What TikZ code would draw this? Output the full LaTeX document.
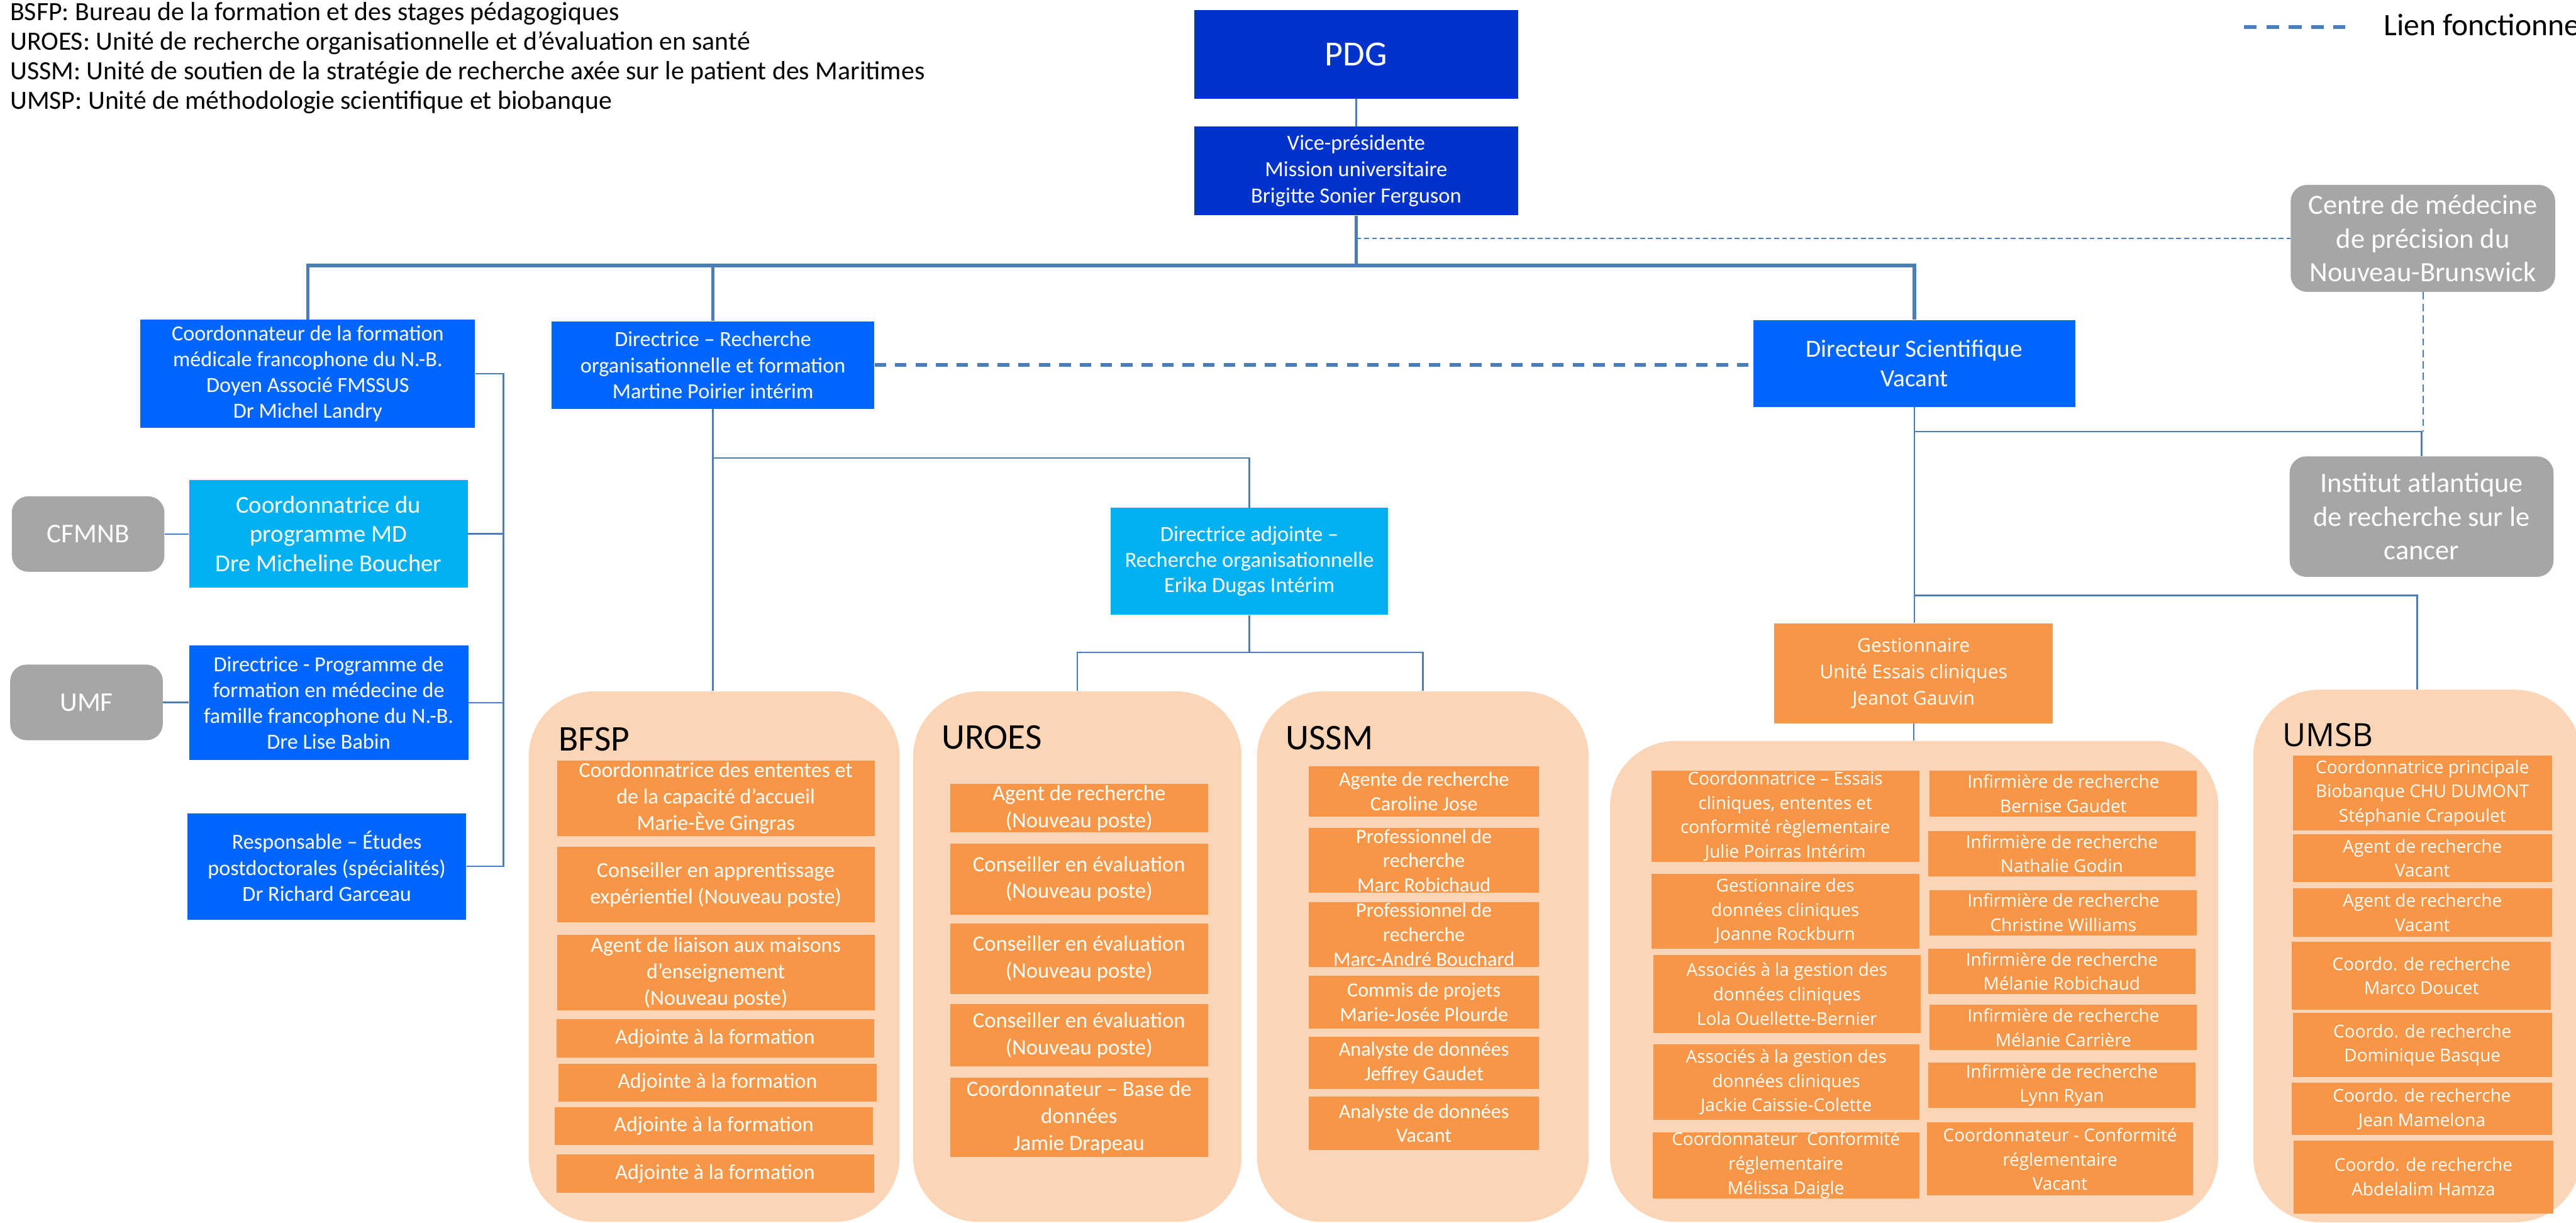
\documentclass[tikz,border=0pt]{standalone}
\usepackage{fontspec}
\setmainfont{Carlito}
\newfontfamily\osans{Open Sans}
\definecolor{pdgblue}{HTML}{0033CC}
\definecolor{bblue}{HTML}{0066FF}
\definecolor{lblue}{HTML}{00B0F0}
\definecolor{gbox}{HTML}{A6A6A6}
\definecolor{obox}{HTML}{F79646}
\definecolor{peach}{HTML}{FBD5B5}
\definecolor{lnc}{HTML}{4A7EBB}
\newcommand\bx[7]{\node[#1, minimum width={(#4-#2)*1pt}, minimum height={(#5-#3)*1pt}] (#6) at ({(#2+#4)/2},{(#3+#5)/2}) {#7};}
\tikzset{
  base/.style={rectangle, inner sep=0pt, align=center, text=white},
  pdgbox/.style={base, fill=pdgblue, font=\fontsize{21.5}{25}\selectfont},
  vpbox/.style={base, fill=pdgblue, font=\fontsize{13.2}{16.1}\selectfont},
  bluebox/.style={base, fill=bblue, font=\fontsize{13.1}{15.8}\selectfont},
  sciebox/.style={base, fill=bblue, font=\fontsize{15}{18}\selectfont},
  lbbox/.style={base, fill=lblue, font=\fontsize{14.8}{17.8}\selectfont},
  adjbox/.style={base, fill=lblue, font=\fontsize{13.2}{15.5}\selectfont},
  graybox/.style={base, fill=gbox, rounded corners=10pt, font=\fontsize{17}{20.5}\selectfont},
  smgray/.style={base, fill=gbox, rounded corners=10pt, font=\fontsize{16.5}{20}\selectfont},
  ofsp/.style={base, fill=obox, font=\fontsize{13}{16}\selectfont},
  ouro/.style={base, fill=obox, font=\fontsize{13.3}{16.3}\selectfont},
  ousm/.style={base, fill=obox, font=\fontsize{12.3}{14.8}\selectfont},
  oclin/.style={base, fill=obox, font=\osans\fontsize{10.7}{14.8}\selectfont},
  ogest/.style={base, fill=obox, font=\osans\fontsize{11.5}{16}\selectfont},
  unit/.style={rectangle, fill=peach, rounded corners=40pt, inner sep=0pt},
  utitle/.style={inner sep=0pt, anchor=base west, text=black, font=\fontsize{22}{26}\selectfont},
  legtext/.style={inner sep=0pt, anchor=base west, text=black, font=\fontsize{16}{18}\selectfont},
  ln/.style={draw=lnc, line width=0.9pt},
  thk/.style={draw=lnc, line width=2.2pt},
  dashthk/.style={draw=lnc, line width=2.3pt, dash pattern=on 7pt off 5.5pt},
  dotln/.style={draw=lnc, line width=0.8pt, dash pattern=on 3pt off 1.8pt},
  dashthin/.style={draw=lnc, line width=0.8pt, dash pattern=on 4.5pt off 2.5pt},
  legdash/.style={draw=lnc, line width=2.3pt, dash pattern=on 7.8pt off 5.8pt}
}
\begin{document}
\begin{tikzpicture}[x=1pt,y=-1pt]
\useasboundingbox (0,0) rectangle (1568,744);

% legend
\node[legtext] (leg1) at (6,12.6) {BSFP: Bureau de la formation et des stages pédagogiques};
\node[legtext] (leg2) at (6,30.5) {UROES: Unité de recherche organisationnelle et d’évaluation en santé};
\node[legtext] (leg3) at (6,48.4) {USSM: Unité de soutien de la stratégie de recherche axée sur le patient des Maritimes};
\node[legtext] (leg4) at (6,66.3) {UMSP: Unité de méthodologie scientifique et biobanque};
\coordinate (lg1) at (1365.9,16.3);
\coordinate (lg2) at (1427.6,16.3);
\draw[legdash] (lg1) -- (lg2);
\node[inner sep=0pt, anchor=base west, font=\fontsize{19}{22}\selectfont] (legf) at (1450.8,21.7) {Lien fonctionnel};

% containers
\bx{unit}{321.8}{420.7}{547.6}{743.5}{bfsp}{}
\bx{unit}{555.8}{420.7}{755.7}{743.5}{uroes}{}
\bx{unit}{765.1}{420.7}{967}{743.5}{ussm}{}
\bx{unit}{980}{450.8}{1350.2}{743.5}{clin}{}
\bx{unit}{1371.6}{419.7}{1571}{743.7}{umsb}{}
\node[utitle] (tbfsp) at (340,457) {BFSP};
\node[utitle] (turoes) at (573,455.7) {UROES};
\node[utitle] (tussm) at (782.4,456) {USSM};
\node[utitle, font=\osans\fontsize{19.5}{23}\selectfont] (tumsb) at (1389.3,454.2) {UMSB};

% top
\bx{pdgbox}{727}{6}{924}{60}{pdg}{PDG}
\bx{vpbox}{727}{77}{924}{131}{vp}{Vice-présidente\\Mission universitaire\\Brigitte Sonier Ferguson}
\bx{bluebox}{85.5}{194.5}{289.2}{260.2}{coordF}{Coordonnateur de la formation\\médicale francophone du N.-B.\\Doyen Associé FMSSUS\\Dr Michel Landry}
\bx{bluebox}{335.8}{195.6}{532.1}{248.7}{dirrof}{Directrice – Recherche\\organisationnelle et formation\\Martine Poirier intérim}
\bx{sciebox}{1067.3}{194.8}{1263.2}{247.6}{dirsci}{Directeur Scientifique\\Vacant}
\bx{graybox}{1394.3}{112.5}{1555.3}{177.6}{cmp}{Centre de médecine\\de précision du\\Nouveau-Brunswick}
\bx{graybox}{1393.7}{277.7}{1554.3}{351}{iarc}{Institut atlantique\\de recherche sur le\\cancer}

% left column
\bx{lbbox}{115.2}{292}{284.7}{357.7}{cmd}{Coordonnatrice du\\programme MD\\Dre Micheline Boucher}
\bx{smgray}{7.2}{302}{100.1}{347.9}{cfmnb}{CFMNB}
\bx{bluebox}{115.1}{392.9}{285}{462.5}{dprog}{Directrice - Programme de\\formation en médecine de\\famille francophone du N.-B.\\Dre Lise Babin}
\bx{smgray}{6.2}{404.4}{99.1}{450.4}{umf}{UMF}
\bx{bluebox}{114.1}{494.8}{283.8}{559.5}{resp}{Responsable – Études\\postdoctorales (spécialités)\\Dr Richard Garceau}
\coordinate (bus) at (306.4,0);

% middle
\bx{adjbox}{676}{309}{845}{374}{dadj}{Directrice adjointe –\\Recherche organisationnelle\\Erika Dugas Intérim}
\bx{ogest}{1080}{379.2}{1249.6}{440.2}{gest}{Gestionnaire\\Unité Essais cliniques\\Jeanot Gauvin}

% BFSP
\bx{ofsp}{339}{462.7}{532.4}{508.8}{b1}{Coordonnatrice des ententes et\\de la capacité d’accueil\\Marie-Ève Gingras}
\bx{ofsp}{339}{515.3}{532.4}{561.2}{b2}{Conseiller en apprentissage\\expérientiel (Nouveau poste)}
\bx{ofsp}{339}{569}{532.4}{614.8}{b3}{Agent de liaison aux maisons\\d’enseignement\\(Nouveau poste)}
\bx{ofsp}{338.6}{620.3}{532}{643.5}{b4}{Adjointe à la formation}
\bx{ofsp}{339.9}{647.3}{533.6}{670.2}{b5}{Adjointe à la formation}
\bx{ofsp}{337.8}{673.8}{531.2}{696.7}{b6}{Adjointe à la formation}
\bx{ofsp}{338.6}{702.6}{532}{725.7}{b7}{Adjointe à la formation}

% UROES
\bx{ouro}{578.4}{477}{735.2}{506.4}{u1}{Agent de recherche\\(Nouveau poste)}
\bx{ouro}{578.4}{513.2}{735.2}{556.5}{u2}{Conseiller en évaluation\\(Nouveau poste)}
\bx{ouro}{578.4}{561.8}{735.2}{604.9}{u3}{Conseiller en évaluation\\(Nouveau poste)}
\bx{ouro}{578.4}{611}{735.2}{649}{u4}{Conseiller en évaluation\\(Nouveau poste)}
\bx{ouro}{578.4}{655.8}{735.2}{704.1}{u5}{Coordonnateur – Base de\\données\\Jamie Drapeau}

% USSM
\bx{ousm}{796.8}{466.3}{936.7}{496.9}{s1}{Agente de recherche\\Caroline Jose}
\bx{ousm}{796.8}{503.9}{936.7}{543.3}{s2}{Professionnel de\\recherche\\Marc Robichaud}
\bx{ousm}{796.8}{548.9}{936.7}{588.3}{s3}{Professionnel de\\recherche\\Marc-André Bouchard}
\bx{ousm}{796.8}{593.8}{936.7}{625.8}{s4}{Commis de projets\\Marie-Josée Plourde}
\bx{ousm}{796.8}{630.7}{936.7}{662.8}{s5}{Analyste de données\\Jeffrey Gaudet}
\bx{ousm}{796.8}{667.4}{936.7}{699.7}{s6}{Analyste de données\\Vacant}

% clinical
\bx{oclin}{1005.2}{469}{1168.2}{524.3}{c1}{Coordonnatrice – Essais\\cliniques, ententes et\\conformité règlementaire\\Julie Poirras Intérim}
\bx{oclin}{1005.2}{531.7}{1168.2}{577.1}{c2}{Gestionnaire des\\données cliniques\\Joanne Rockburn}
\bx{oclin}{1006.3}{581}{1169.1}{628.6}{c3}{Associés à la gestion des\\données cliniques\\Lola Ouellette-Bernier}
\bx{oclin}{1006.3}{635.5}{1168.2}{681.4}{c4}{Associés à la gestion des\\données cliniques\\Jackie Caissie-Colette}
\bx{oclin}{1005.9}{689.3}{1168.2}{728.8}{c5}{Coordonnateur~ Conformité\\réglementaire\\Mélissa Daigle}
\bx{oclin}{1174.6}{469}{1337.3}{496.9}{r1}{Infirmière de recherche\\Bernise Gaudet}
\bx{oclin}{1173.7}{505.5}{1336.3}{533.4}{r2}{Infirmière de recherche\\Nathalie Godin}
\bx{oclin}{1174.6}{541.5}{1337.3}{569.2}{r3}{Infirmière de recherche\\Christine Williams}
\bx{oclin}{1173.7}{577.1}{1336.3}{604.9}{r4}{Infirmière de recherche\\Mélanie Robichaud}
\bx{oclin}{1174.6}{611.4}{1337.3}{639}{r5}{Infirmière de recherche\\Mélanie Carrière}
\bx{oclin}{1173.7}{646.4}{1336.3}{674.3}{r6}{Infirmière de recherche\\Lynn Ryan}
\bx{oclin}{1172.8}{683.1}{1335}{727.5}{r7}{Coordonnateur - Conformité\\réglementaire\\Vacant}

% UMSB
\bx{oclin}{1395.7}{459.8}{1553.3}{505.3}{m1}{Coordonnatrice principale\\Biobanque CHU DUMONT\\Stéphanie Crapoulet}
\bx{oclin}{1395.7}{507.5}{1553.3}{536.8}{m2}{Agent de recherche\\Vacant}
\bx{oclin}{1395.7}{540.6}{1553.3}{570}{m3}{Agent de recherche\\Vacant}
\bx{oclin}{1395.1}{573.1}{1552.7}{614.3}{m4}{Coordo. de recherche\\Marco Doucet}
\bx{oclin}{1395.7}{616.5}{1553.3}{655.3}{m5}{Coordo. de recherche\\Dominique Basque}
\bx{oclin}{1395.1}{659}{1553.3}{690.6}{m6}{Coordo. de recherche\\Jean Mamelona}
\bx{oclin}{1396.2}{694}{1554.1}{738.3}{m7}{Coordo. de recherche\\Abdelalim Hamza}

% junction coordinates
\coordinate (hubc) at (0,161.5);
\coordinate (j1) at (0,278.7);
\coordinate (j2) at (0,397);
\coordinate (j3) at (0,262.5);
\coordinate (j4) at (0,362.3);

% connectors
\draw[ln] (pdg.south) -- (vp.north);
\draw[thk] (vp.south) -- (vp.south |- hubc);
\draw[thk] (coordF.north) -- (coordF.north |- hubc) -- (dirsci.north |- hubc) -- (dirsci.north);
\draw[thk] (dirrof.north) -- (dirrof.north |- hubc);
\draw[dotln] (vp.south |- cmp.west) -- (cmp.west);
\draw[dashthk] (dirrof.east) -- (dirrof.east -| dirsci.west);
\draw[ln] (coordF.east) -- (coordF.east -| bus) -- (resp.east -| bus) -- (resp.east);
\draw[ln] (cmd.east) -- (cmd.east -| bus);
\draw[ln] (dprog.east) -- (dprog.east -| bus);
\draw[ln] (cfmnb.east) -- (cfmnb.east -| cmd.west);
\draw[ln] (umf.east) -- (umf.east -| dprog.west);
\draw[ln] (dirrof.south) -- (dirrof.south |- bfsp.north);
\draw[ln] (dirrof.south |- j1) -| (dadj.north);
\draw[ln] (dadj.south) -- (dadj.south |- j2);
\draw[ln] (uroes.north) -- (uroes.north |- j2) -- (ussm.north |- j2) -- (ussm.north);
\draw[ln] (dirsci.south) -- (dirsci.south |- gest.north);
\draw[ln] (gest.south) -- (gest.south |- clin.north);
\draw[ln] (dirsci.south |- j3) -| (iarc.north);
\draw[dashthin] (cmp.south) -- (cmp.south |- j3);
\draw[ln] (dirsci.south |- j4) -| (umsb.north);
\end{tikzpicture}
\end{document}
